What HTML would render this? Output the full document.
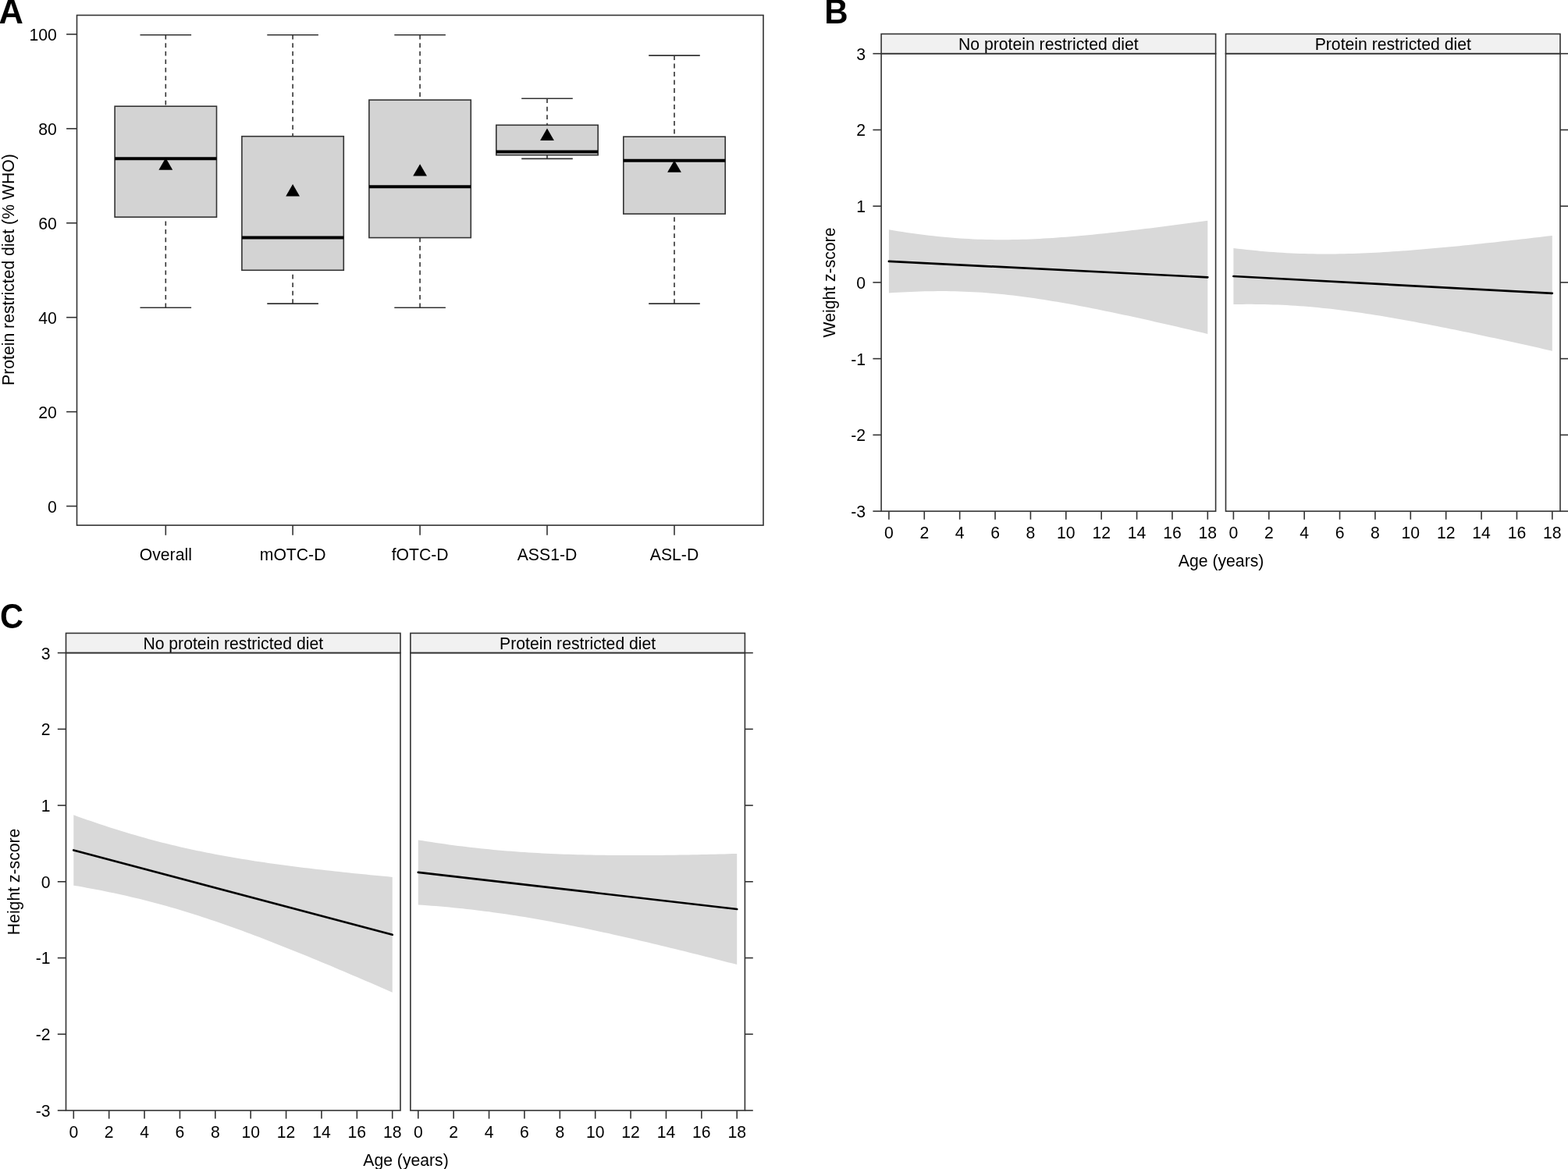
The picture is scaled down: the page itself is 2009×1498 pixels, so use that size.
<!DOCTYPE html>
<html><head><meta charset="utf-8"><title>Figure</title>
<style>
html,body{margin:0;padding:0;background:#fff;}
svg{display:block;}
text{font-family:"Liberation Sans", Arial, Helvetica, sans-serif;fill:#000;}
</style></head>
<body>
<svg width="2009" height="1498" viewBox="0 0 2009 1498">
<rect x="0" y="0" width="2009" height="1498" fill="#fff"/>
<rect x="98.5" y="19.5" width="879.5" height="653.6" fill="none" stroke="#333" stroke-width="1.6"/>
<line x1="85.1" y1="648.6" x2="98.5" y2="648.6" stroke="#333" stroke-width="1.6" />
<text transform="translate(72.9 656.6) scale(1.0 1.04)" text-anchor="end" font-size="21.2" font-weight="normal" >0</text>
<line x1="85.1" y1="527.66" x2="98.5" y2="527.66" stroke="#333" stroke-width="1.6" />
<text transform="translate(72.9 535.66) scale(1.0 1.04)" text-anchor="end" font-size="21.2" font-weight="normal" >20</text>
<line x1="85.1" y1="406.72" x2="98.5" y2="406.72" stroke="#333" stroke-width="1.6" />
<text transform="translate(72.9 414.72) scale(1.0 1.04)" text-anchor="end" font-size="21.2" font-weight="normal" >40</text>
<line x1="85.1" y1="285.78" x2="98.5" y2="285.78" stroke="#333" stroke-width="1.6" />
<text transform="translate(72.9 293.78) scale(1.0 1.04)" text-anchor="end" font-size="21.2" font-weight="normal" >60</text>
<line x1="85.1" y1="164.84" x2="98.5" y2="164.84" stroke="#333" stroke-width="1.6" />
<text transform="translate(72.9 172.84) scale(1.0 1.04)" text-anchor="end" font-size="21.2" font-weight="normal" >80</text>
<line x1="85.1" y1="43.9" x2="98.5" y2="43.9" stroke="#333" stroke-width="1.6" />
<text transform="translate(72.9 51.9) scale(1.0 1.04)" text-anchor="end" font-size="21.2" font-weight="normal" >100</text>
<line x1="212.3" y1="44.8" x2="212.3" y2="136.2" stroke="#333" stroke-width="1.6" stroke-dasharray="5.8 4.7"/>
<line x1="212.3" y1="394.3" x2="212.3" y2="278.2" stroke="#333" stroke-width="1.6" stroke-dasharray="5.8 4.7"/>
<line x1="179.5" y1="44.8" x2="245.1" y2="44.8" stroke="#333" stroke-width="1.6" />
<line x1="179.5" y1="394.3" x2="245.1" y2="394.3" stroke="#333" stroke-width="1.6" />
<rect x="147.1" y="136.2" width="130.4" height="142" fill="#d3d3d3" stroke="#333" stroke-width="1.6"/>
<line x1="147.1" y1="203.2" x2="277.5" y2="203.2" stroke="#000" stroke-width="4.0" />
<polygon points="212.3,202.3 221.2,217.7 203.4,217.7" fill="#000"/>
<line x1="212.3" y1="673.1" x2="212.3" y2="685.8" stroke="#333" stroke-width="1.6" />
<text transform="translate(212.3 718.2) scale(1.0 1.04)" text-anchor="middle" font-size="21.2" font-weight="normal" >Overall</text>
<line x1="375.1" y1="44.8" x2="375.1" y2="174.7" stroke="#333" stroke-width="1.6" stroke-dasharray="5.8 4.7"/>
<line x1="375.1" y1="389.1" x2="375.1" y2="346.3" stroke="#333" stroke-width="1.6" stroke-dasharray="5.8 4.7"/>
<line x1="342.3" y1="44.8" x2="407.9" y2="44.8" stroke="#333" stroke-width="1.6" />
<line x1="342.3" y1="389.1" x2="407.9" y2="389.1" stroke="#333" stroke-width="1.6" />
<rect x="309.9" y="174.7" width="130.4" height="171.6" fill="#d3d3d3" stroke="#333" stroke-width="1.6"/>
<line x1="309.9" y1="304.5" x2="440.3" y2="304.5" stroke="#000" stroke-width="4.0" />
<polygon points="375.1,236 384,251.4 366.2,251.4" fill="#000"/>
<line x1="375.1" y1="673.1" x2="375.1" y2="685.8" stroke="#333" stroke-width="1.6" />
<text transform="translate(375.1 718.2) scale(1.0 1.04)" text-anchor="middle" font-size="21.2" font-weight="normal" >mOTC-D</text>
<line x1="538.1" y1="44.8" x2="538.1" y2="128.1" stroke="#333" stroke-width="1.6" stroke-dasharray="5.8 4.7"/>
<line x1="538.1" y1="394.3" x2="538.1" y2="304.6" stroke="#333" stroke-width="1.6" stroke-dasharray="5.8 4.7"/>
<line x1="505.3" y1="44.8" x2="570.9" y2="44.8" stroke="#333" stroke-width="1.6" />
<line x1="505.3" y1="394.3" x2="570.9" y2="394.3" stroke="#333" stroke-width="1.6" />
<rect x="472.9" y="128.1" width="130.4" height="176.5" fill="#d3d3d3" stroke="#333" stroke-width="1.6"/>
<line x1="472.9" y1="239.2" x2="603.3" y2="239.2" stroke="#000" stroke-width="4.0" />
<polygon points="538.1,210.2 547,225.6 529.2,225.6" fill="#000"/>
<line x1="538.1" y1="673.1" x2="538.1" y2="685.8" stroke="#333" stroke-width="1.6" />
<text transform="translate(538.1 718.2) scale(1.0 1.04)" text-anchor="middle" font-size="21.2" font-weight="normal" >fOTC-D</text>
<line x1="701" y1="126.2" x2="701" y2="160.3" stroke="#333" stroke-width="1.6" stroke-dasharray="5.8 4.7"/>
<line x1="701" y1="203.4" x2="701" y2="198.7" stroke="#333" stroke-width="1.6" stroke-dasharray="5.8 4.7"/>
<line x1="668.2" y1="126.2" x2="733.8" y2="126.2" stroke="#333" stroke-width="1.6" />
<line x1="668.2" y1="203.4" x2="733.8" y2="203.4" stroke="#333" stroke-width="1.6" />
<rect x="635.8" y="160.3" width="130.4" height="38.4" fill="#d3d3d3" stroke="#333" stroke-width="1.6"/>
<line x1="635.8" y1="194.5" x2="766.2" y2="194.5" stroke="#000" stroke-width="4.0" />
<polygon points="701,164.5 709.9,179.9 692.1,179.9" fill="#000"/>
<line x1="701" y1="673.1" x2="701" y2="685.8" stroke="#333" stroke-width="1.6" />
<text transform="translate(701 718.2) scale(1.0 1.04)" text-anchor="middle" font-size="21.2" font-weight="normal" >ASS1-D</text>
<line x1="864" y1="71.1" x2="864" y2="175.2" stroke="#333" stroke-width="1.6" stroke-dasharray="5.8 4.7"/>
<line x1="864" y1="389.1" x2="864" y2="274.1" stroke="#333" stroke-width="1.6" stroke-dasharray="5.8 4.7"/>
<line x1="831.2" y1="71.1" x2="896.8" y2="71.1" stroke="#333" stroke-width="1.6" />
<line x1="831.2" y1="389.1" x2="896.8" y2="389.1" stroke="#333" stroke-width="1.6" />
<rect x="798.8" y="175.2" width="130.4" height="98.9" fill="#d3d3d3" stroke="#333" stroke-width="1.6"/>
<line x1="798.8" y1="205.7" x2="929.2" y2="205.7" stroke="#000" stroke-width="4.0" />
<polygon points="864,205.4 872.9,220.8 855.1,220.8" fill="#000"/>
<line x1="864" y1="673.1" x2="864" y2="685.8" stroke="#333" stroke-width="1.6" />
<text transform="translate(864 718.2) scale(1.0 1.04)" text-anchor="middle" font-size="21.2" font-weight="normal" >ASL-D</text>
<text transform="translate(17.9 345.6) rotate(-90) scale(1 1.04)" text-anchor="middle" font-size="21.2">Protein restricted diet (% WHO)</text>
<polygon fill="#d9d9d9" stroke="none" points="1138.9,294.35 1144.57,295.28 1150.25,296.18 1155.92,297.06 1161.59,297.91 1167.26,298.73 1172.94,299.52 1178.61,300.27 1184.28,300.99 1189.95,301.68 1195.62,302.33 1201.3,302.94 1206.97,303.51 1212.64,304.05 1218.32,304.54 1223.99,305 1229.66,305.41 1235.33,305.78 1241.01,306.11 1246.68,306.39 1252.35,306.63 1258.02,306.83 1263.7,306.99 1269.37,307.11 1275.04,307.18 1280.71,307.22 1286.39,307.22 1292.06,307.17 1297.73,307.09 1303.4,306.98 1309.08,306.82 1314.75,306.64 1320.42,306.42 1326.09,306.17 1331.77,305.89 1337.44,305.59 1343.11,305.25 1348.78,304.89 1354.46,304.5 1360.13,304.09 1365.8,303.66 1371.47,303.2 1377.14,302.73 1382.82,302.24 1388.49,301.72 1394.16,301.19 1399.84,300.65 1405.51,300.09 1411.18,299.51 1416.85,298.92 1422.53,298.31 1428.2,297.7 1433.87,297.07 1439.54,296.43 1445.22,295.78 1450.89,295.11 1456.56,294.44 1462.23,293.76 1467.91,293.07 1473.58,292.38 1479.25,291.67 1484.92,290.96 1490.6,290.24 1496.27,289.51 1501.94,288.77 1507.61,288.03 1513.29,287.29 1518.96,286.54 1524.63,285.78 1530.3,285.02 1535.98,284.25 1541.65,283.48 1547.32,282.7 1547.32,427.9 1541.65,426.56 1535.98,425.22 1530.3,423.88 1524.63,422.55 1518.96,421.23 1513.29,419.91 1507.61,418.6 1501.94,417.29 1496.27,415.99 1490.6,414.7 1484.92,413.41 1479.25,412.13 1473.58,410.86 1467.91,409.59 1462.23,408.34 1456.56,407.09 1450.89,405.85 1445.22,404.62 1439.54,403.41 1433.87,402.2 1428.2,401 1422.53,399.82 1416.85,398.65 1411.18,397.49 1405.51,396.35 1399.84,395.22 1394.16,394.11 1388.49,393.01 1382.82,391.93 1377.14,390.87 1371.47,389.83 1365.8,388.81 1360.13,387.81 1354.46,386.83 1348.78,385.88 1343.11,384.95 1337.44,384.05 1331.77,383.17 1326.09,382.33 1320.42,381.51 1314.75,380.73 1309.08,379.98 1303.4,379.26 1297.73,378.57 1292.06,377.93 1286.39,377.32 1280.71,376.75 1275.04,376.22 1269.37,375.72 1263.7,375.27 1258.02,374.87 1252.35,374.5 1246.68,374.18 1241.01,373.89 1235.33,373.65 1229.66,373.46 1223.99,373.3 1218.32,373.19 1212.64,373.12 1206.97,373.09 1201.3,373.09 1195.62,373.14 1189.95,373.22 1184.28,373.34 1178.61,373.5 1172.94,373.68 1167.26,373.91 1161.59,374.16 1155.92,374.44 1150.25,374.75 1144.57,375.09 1138.9,375.45"/>
<line x1="1138.9" y1="334.9" x2="1547.32" y2="355.3" stroke="#000" stroke-width="2.7" stroke-linecap="round"/>
<rect x="1129.1" y="43.5" width="428.5" height="25.2" fill="#f1f1f1" stroke="#333" stroke-width="1.6"/>
<text transform="translate(1343.35 63.9) scale(1.0 1.04)" text-anchor="middle" font-size="21.2" font-weight="normal" >No protein restricted diet</text>
<rect x="1129.1" y="68.7" width="428.5" height="586.4" fill="none" stroke="#333" stroke-width="1.6"/>
<line x1="1138.9" y1="655.1" x2="1138.9" y2="665.7" stroke="#333" stroke-width="1.6" />
<text transform="translate(1138.9 689.8) scale(1.0 1.04)" text-anchor="middle" font-size="21.2" font-weight="normal" >0</text>
<line x1="1184.28" y1="655.1" x2="1184.28" y2="665.7" stroke="#333" stroke-width="1.6" />
<text transform="translate(1184.28 689.8) scale(1.0 1.04)" text-anchor="middle" font-size="21.2" font-weight="normal" >2</text>
<line x1="1229.66" y1="655.1" x2="1229.66" y2="665.7" stroke="#333" stroke-width="1.6" />
<text transform="translate(1229.66 689.8) scale(1.0 1.04)" text-anchor="middle" font-size="21.2" font-weight="normal" >4</text>
<line x1="1275.04" y1="655.1" x2="1275.04" y2="665.7" stroke="#333" stroke-width="1.6" />
<text transform="translate(1275.04 689.8) scale(1.0 1.04)" text-anchor="middle" font-size="21.2" font-weight="normal" >6</text>
<line x1="1320.42" y1="655.1" x2="1320.42" y2="665.7" stroke="#333" stroke-width="1.6" />
<text transform="translate(1320.42 689.8) scale(1.0 1.04)" text-anchor="middle" font-size="21.2" font-weight="normal" >8</text>
<line x1="1365.8" y1="655.1" x2="1365.8" y2="665.7" stroke="#333" stroke-width="1.6" />
<text transform="translate(1365.8 689.8) scale(1.0 1.04)" text-anchor="middle" font-size="21.2" font-weight="normal" >10</text>
<line x1="1411.18" y1="655.1" x2="1411.18" y2="665.7" stroke="#333" stroke-width="1.6" />
<text transform="translate(1411.18 689.8) scale(1.0 1.04)" text-anchor="middle" font-size="21.2" font-weight="normal" >12</text>
<line x1="1456.56" y1="655.1" x2="1456.56" y2="665.7" stroke="#333" stroke-width="1.6" />
<text transform="translate(1456.56 689.8) scale(1.0 1.04)" text-anchor="middle" font-size="21.2" font-weight="normal" >14</text>
<line x1="1501.94" y1="655.1" x2="1501.94" y2="665.7" stroke="#333" stroke-width="1.6" />
<text transform="translate(1501.94 689.8) scale(1.0 1.04)" text-anchor="middle" font-size="21.2" font-weight="normal" >16</text>
<line x1="1547.32" y1="655.1" x2="1547.32" y2="665.7" stroke="#333" stroke-width="1.6" />
<text transform="translate(1547.32 689.8) scale(1.0 1.04)" text-anchor="middle" font-size="21.2" font-weight="normal" >18</text>
<polygon fill="#d9d9d9" stroke="none" points="1580.4,317.95 1586.07,318.65 1591.75,319.31 1597.42,319.95 1603.09,320.55 1608.76,321.12 1614.44,321.66 1620.11,322.16 1625.78,322.63 1631.45,323.07 1637.12,323.46 1642.8,323.83 1648.47,324.15 1654.14,324.44 1659.82,324.7 1665.49,324.91 1671.16,325.09 1676.83,325.24 1682.51,325.35 1688.18,325.43 1693.85,325.48 1699.52,325.49 1705.2,325.47 1710.87,325.41 1716.54,325.33 1722.21,325.22 1727.89,325.08 1733.56,324.91 1739.23,324.72 1744.9,324.5 1750.58,324.26 1756.25,323.99 1761.92,323.71 1767.59,323.4 1773.27,323.07 1778.94,322.72 1784.61,322.35 1790.28,321.96 1795.96,321.56 1801.63,321.15 1807.3,320.71 1812.97,320.26 1818.64,319.8 1824.32,319.33 1829.99,318.84 1835.66,318.34 1841.34,317.83 1847.01,317.31 1852.68,316.78 1858.35,316.24 1864.03,315.69 1869.7,315.13 1875.37,314.56 1881.04,313.98 1886.72,313.4 1892.39,312.81 1898.06,312.21 1903.73,311.61 1909.41,310.99 1915.08,310.38 1920.75,309.75 1926.42,309.12 1932.1,308.49 1937.77,307.85 1943.44,307.21 1949.11,306.56 1954.79,305.9 1960.46,305.25 1966.13,304.59 1971.8,303.92 1977.48,303.25 1983.15,302.58 1988.82,301.9 1988.82,449.7 1983.15,448.42 1977.48,447.14 1971.8,445.86 1966.13,444.59 1960.46,443.33 1954.79,442.06 1949.11,440.8 1943.44,439.55 1937.77,438.3 1932.1,437.05 1926.42,435.81 1920.75,434.58 1915.08,433.35 1909.41,432.13 1903.73,430.91 1898.06,429.7 1892.39,428.5 1886.72,427.3 1881.04,426.11 1875.37,424.93 1869.7,423.76 1864.03,422.59 1858.35,421.43 1852.68,420.29 1847.01,419.15 1841.34,418.02 1835.66,416.91 1829.99,415.8 1824.32,414.71 1818.64,413.63 1812.97,412.56 1807.3,411.51 1801.63,410.47 1795.96,409.45 1790.28,408.44 1784.61,407.45 1778.94,406.48 1773.27,405.52 1767.59,404.59 1761.92,403.67 1756.25,402.78 1750.58,401.91 1744.9,401.06 1739.23,400.24 1733.56,399.44 1727.89,398.66 1722.21,397.92 1716.54,397.2 1710.87,396.51 1705.2,395.86 1699.52,395.23 1693.85,394.64 1688.18,394.07 1682.51,393.55 1676.83,393.05 1671.16,392.59 1665.49,392.17 1659.82,391.78 1654.14,391.43 1648.47,391.12 1642.8,390.84 1637.12,390.59 1631.45,390.38 1625.78,390.21 1620.11,390.08 1614.44,389.97 1608.76,389.91 1603.09,389.87 1597.42,389.87 1591.75,389.9 1586.07,389.96 1580.4,390.05"/>
<line x1="1580.4" y1="354" x2="1988.82" y2="375.8" stroke="#000" stroke-width="2.7" stroke-linecap="round"/>
<rect x="1570.5" y="43.5" width="428.5" height="25.2" fill="#f1f1f1" stroke="#333" stroke-width="1.6"/>
<text transform="translate(1784.75 63.9) scale(1.0 1.04)" text-anchor="middle" font-size="21.2" font-weight="normal" >Protein restricted diet</text>
<rect x="1570.5" y="68.7" width="428.5" height="586.4" fill="none" stroke="#333" stroke-width="1.6"/>
<line x1="1580.4" y1="655.1" x2="1580.4" y2="665.7" stroke="#333" stroke-width="1.6" />
<text transform="translate(1580.4 689.8) scale(1.0 1.04)" text-anchor="middle" font-size="21.2" font-weight="normal" >0</text>
<line x1="1625.78" y1="655.1" x2="1625.78" y2="665.7" stroke="#333" stroke-width="1.6" />
<text transform="translate(1625.78 689.8) scale(1.0 1.04)" text-anchor="middle" font-size="21.2" font-weight="normal" >2</text>
<line x1="1671.16" y1="655.1" x2="1671.16" y2="665.7" stroke="#333" stroke-width="1.6" />
<text transform="translate(1671.16 689.8) scale(1.0 1.04)" text-anchor="middle" font-size="21.2" font-weight="normal" >4</text>
<line x1="1716.54" y1="655.1" x2="1716.54" y2="665.7" stroke="#333" stroke-width="1.6" />
<text transform="translate(1716.54 689.8) scale(1.0 1.04)" text-anchor="middle" font-size="21.2" font-weight="normal" >6</text>
<line x1="1761.92" y1="655.1" x2="1761.92" y2="665.7" stroke="#333" stroke-width="1.6" />
<text transform="translate(1761.92 689.8) scale(1.0 1.04)" text-anchor="middle" font-size="21.2" font-weight="normal" >8</text>
<line x1="1807.3" y1="655.1" x2="1807.3" y2="665.7" stroke="#333" stroke-width="1.6" />
<text transform="translate(1807.3 689.8) scale(1.0 1.04)" text-anchor="middle" font-size="21.2" font-weight="normal" >10</text>
<line x1="1852.68" y1="655.1" x2="1852.68" y2="665.7" stroke="#333" stroke-width="1.6" />
<text transform="translate(1852.68 689.8) scale(1.0 1.04)" text-anchor="middle" font-size="21.2" font-weight="normal" >12</text>
<line x1="1898.06" y1="655.1" x2="1898.06" y2="665.7" stroke="#333" stroke-width="1.6" />
<text transform="translate(1898.06 689.8) scale(1.0 1.04)" text-anchor="middle" font-size="21.2" font-weight="normal" >14</text>
<line x1="1943.44" y1="655.1" x2="1943.44" y2="665.7" stroke="#333" stroke-width="1.6" />
<text transform="translate(1943.44 689.8) scale(1.0 1.04)" text-anchor="middle" font-size="21.2" font-weight="normal" >16</text>
<line x1="1988.82" y1="655.1" x2="1988.82" y2="665.7" stroke="#333" stroke-width="1.6" />
<text transform="translate(1988.82 689.8) scale(1.0 1.04)" text-anchor="middle" font-size="21.2" font-weight="normal" >18</text>
<line x1="1118.4" y1="655.09" x2="1129.1" y2="655.09" stroke="#333" stroke-width="1.6" />
<line x1="1999" y1="655.09" x2="2009.4" y2="655.09" stroke="#333" stroke-width="1.6" />
<text transform="translate(1109.1 662.99) scale(1.0 1.04)" text-anchor="end" font-size="21.2" font-weight="normal" >-3</text>
<line x1="1118.4" y1="557.36" x2="1129.1" y2="557.36" stroke="#333" stroke-width="1.6" />
<line x1="1999" y1="557.36" x2="2009.4" y2="557.36" stroke="#333" stroke-width="1.6" />
<text transform="translate(1109.1 565.26) scale(1.0 1.04)" text-anchor="end" font-size="21.2" font-weight="normal" >-2</text>
<line x1="1118.4" y1="459.63" x2="1129.1" y2="459.63" stroke="#333" stroke-width="1.6" />
<line x1="1999" y1="459.63" x2="2009.4" y2="459.63" stroke="#333" stroke-width="1.6" />
<text transform="translate(1109.1 467.53) scale(1.0 1.04)" text-anchor="end" font-size="21.2" font-weight="normal" >-1</text>
<line x1="1118.4" y1="361.9" x2="1129.1" y2="361.9" stroke="#333" stroke-width="1.6" />
<line x1="1999" y1="361.9" x2="2009.4" y2="361.9" stroke="#333" stroke-width="1.6" />
<text transform="translate(1109.1 369.8) scale(1.0 1.04)" text-anchor="end" font-size="21.2" font-weight="normal" >0</text>
<line x1="1118.4" y1="264.17" x2="1129.1" y2="264.17" stroke="#333" stroke-width="1.6" />
<line x1="1999" y1="264.17" x2="2009.4" y2="264.17" stroke="#333" stroke-width="1.6" />
<text transform="translate(1109.1 272.07) scale(1.0 1.04)" text-anchor="end" font-size="21.2" font-weight="normal" >1</text>
<line x1="1118.4" y1="166.44" x2="1129.1" y2="166.44" stroke="#333" stroke-width="1.6" />
<line x1="1999" y1="166.44" x2="2009.4" y2="166.44" stroke="#333" stroke-width="1.6" />
<text transform="translate(1109.1 174.34) scale(1.0 1.04)" text-anchor="end" font-size="21.2" font-weight="normal" >2</text>
<line x1="1118.4" y1="68.71" x2="1129.1" y2="68.71" stroke="#333" stroke-width="1.6" />
<line x1="1999" y1="68.71" x2="2009.4" y2="68.71" stroke="#333" stroke-width="1.6" />
<text transform="translate(1109.1 76.61) scale(1.0 1.04)" text-anchor="end" font-size="21.2" font-weight="normal" >3</text>
<text transform="translate(1564.6 725.6) scale(1.0 1.04)" text-anchor="middle" font-size="21.2" font-weight="normal" >Age (years)</text>
<text transform="translate(1069.9 362) rotate(-90) scale(1 1.04)" text-anchor="middle" font-size="21.2">Weight z-score</text>
<polygon fill="#d9d9d9" stroke="none" points="94.3,1044.35 99.97,1046.39 105.65,1048.4 111.32,1050.38 116.99,1052.34 122.66,1054.28 128.34,1056.19 134.01,1058.07 139.68,1059.92 145.35,1061.74 151.03,1063.53 156.7,1065.29 162.37,1067.01 168.04,1068.71 173.72,1070.37 179.39,1072 185.06,1073.6 190.73,1075.16 196.41,1076.69 202.08,1078.19 207.75,1079.65 213.42,1081.08 219.1,1082.48 224.77,1083.84 230.44,1085.17 236.11,1086.47 241.79,1087.74 247.46,1088.97 253.13,1090.18 258.8,1091.35 264.48,1092.5 270.15,1093.62 275.82,1094.71 281.49,1095.77 287.17,1096.8 292.84,1097.81 298.51,1098.8 304.18,1099.76 309.86,1100.7 315.53,1101.62 321.2,1102.52 326.87,1103.39 332.55,1104.25 338.22,1105.09 343.89,1105.91 349.56,1106.71 355.24,1107.5 360.91,1108.27 366.58,1109.02 372.25,1109.76 377.93,1110.49 383.6,1111.2 389.27,1111.9 394.94,1112.59 400.62,1113.26 406.29,1113.93 411.96,1114.58 417.63,1115.23 423.31,1115.86 428.98,1116.48 434.65,1117.1 440.32,1117.71 446,1118.31 451.67,1118.9 457.34,1119.48 463.01,1120.05 468.69,1120.62 474.36,1121.18 480.03,1121.74 485.7,1122.29 491.38,1122.83 497.05,1123.37 502.72,1123.9 502.72,1271.7 497.05,1269.22 491.38,1266.75 485.7,1264.29 480.03,1261.83 474.36,1259.37 468.69,1256.93 463.01,1254.49 457.34,1252.06 451.67,1249.63 446,1247.21 440.32,1244.8 434.65,1242.4 428.98,1240.01 423.31,1237.62 417.63,1235.25 411.96,1232.88 406.29,1230.53 400.62,1228.19 394.94,1225.85 389.27,1223.53 383.6,1221.23 377.93,1218.93 372.25,1216.65 366.58,1214.38 360.91,1212.13 355.24,1209.89 349.56,1207.67 343.89,1205.46 338.22,1203.27 332.55,1201.1 326.87,1198.95 321.2,1196.82 315.53,1194.71 309.86,1192.61 304.18,1190.55 298.51,1188.5 292.84,1186.48 287.17,1184.48 281.49,1182.51 275.82,1180.56 270.15,1178.64 264.48,1176.75 258.8,1174.89 253.13,1173.05 247.46,1171.25 241.79,1169.48 236.11,1167.74 230.44,1166.03 224.77,1164.35 219.1,1162.7 213.42,1161.09 207.75,1159.51 202.08,1157.97 196.41,1156.46 190.73,1154.98 185.06,1153.53 179.39,1152.12 173.72,1150.74 168.04,1149.4 162.37,1148.09 156.7,1146.81 151.03,1145.56 145.35,1144.34 139.68,1143.15 134.01,1141.99 128.34,1140.86 122.66,1139.76 116.99,1138.69 111.32,1137.64 105.65,1136.62 99.97,1135.62 94.3,1134.65"/>
<line x1="94.3" y1="1089.5" x2="502.72" y2="1197.8" stroke="#000" stroke-width="2.7" stroke-linecap="round"/>
<rect x="84.5" y="811.4" width="428.5" height="25.2" fill="#f1f1f1" stroke="#333" stroke-width="1.6"/>
<text transform="translate(298.75 831.8) scale(1.0 1.04)" text-anchor="middle" font-size="21.2" font-weight="normal" >No protein restricted diet</text>
<rect x="84.5" y="836.6" width="428.5" height="586.4" fill="none" stroke="#333" stroke-width="1.6"/>
<line x1="94.3" y1="1423" x2="94.3" y2="1433.6" stroke="#333" stroke-width="1.6" />
<text transform="translate(94.3 1457.7) scale(1.0 1.04)" text-anchor="middle" font-size="21.2" font-weight="normal" >0</text>
<line x1="139.68" y1="1423" x2="139.68" y2="1433.6" stroke="#333" stroke-width="1.6" />
<text transform="translate(139.68 1457.7) scale(1.0 1.04)" text-anchor="middle" font-size="21.2" font-weight="normal" >2</text>
<line x1="185.06" y1="1423" x2="185.06" y2="1433.6" stroke="#333" stroke-width="1.6" />
<text transform="translate(185.06 1457.7) scale(1.0 1.04)" text-anchor="middle" font-size="21.2" font-weight="normal" >4</text>
<line x1="230.44" y1="1423" x2="230.44" y2="1433.6" stroke="#333" stroke-width="1.6" />
<text transform="translate(230.44 1457.7) scale(1.0 1.04)" text-anchor="middle" font-size="21.2" font-weight="normal" >6</text>
<line x1="275.82" y1="1423" x2="275.82" y2="1433.6" stroke="#333" stroke-width="1.6" />
<text transform="translate(275.82 1457.7) scale(1.0 1.04)" text-anchor="middle" font-size="21.2" font-weight="normal" >8</text>
<line x1="321.2" y1="1423" x2="321.2" y2="1433.6" stroke="#333" stroke-width="1.6" />
<text transform="translate(321.2 1457.7) scale(1.0 1.04)" text-anchor="middle" font-size="21.2" font-weight="normal" >10</text>
<line x1="366.58" y1="1423" x2="366.58" y2="1433.6" stroke="#333" stroke-width="1.6" />
<text transform="translate(366.58 1457.7) scale(1.0 1.04)" text-anchor="middle" font-size="21.2" font-weight="normal" >12</text>
<line x1="411.96" y1="1423" x2="411.96" y2="1433.6" stroke="#333" stroke-width="1.6" />
<text transform="translate(411.96 1457.7) scale(1.0 1.04)" text-anchor="middle" font-size="21.2" font-weight="normal" >14</text>
<line x1="457.34" y1="1423" x2="457.34" y2="1433.6" stroke="#333" stroke-width="1.6" />
<text transform="translate(457.34 1457.7) scale(1.0 1.04)" text-anchor="middle" font-size="21.2" font-weight="normal" >16</text>
<line x1="502.72" y1="1423" x2="502.72" y2="1433.6" stroke="#333" stroke-width="1.6" />
<text transform="translate(502.72 1457.7) scale(1.0 1.04)" text-anchor="middle" font-size="21.2" font-weight="normal" >18</text>
<polygon fill="#d9d9d9" stroke="none" points="535.8,1076.4 541.47,1077.32 547.15,1078.22 552.82,1079.1 558.49,1079.95 564.16,1080.78 569.84,1081.59 575.51,1082.38 581.18,1083.14 586.85,1083.88 592.53,1084.59 598.2,1085.28 603.87,1085.95 609.54,1086.59 615.22,1087.21 620.89,1087.8 626.56,1088.37 632.23,1088.91 637.91,1089.44 643.58,1089.94 649.25,1090.41 654.92,1090.86 660.6,1091.29 666.27,1091.7 671.94,1092.09 677.61,1092.45 683.29,1092.8 688.96,1093.12 694.63,1093.43 700.3,1093.71 705.98,1093.98 711.65,1094.22 717.32,1094.45 722.99,1094.66 728.67,1094.86 734.34,1095.04 740.01,1095.2 745.68,1095.35 751.36,1095.48 757.03,1095.6 762.7,1095.7 768.37,1095.79 774.05,1095.87 779.72,1095.93 785.39,1095.99 791.06,1096.03 796.74,1096.06 802.41,1096.08 808.08,1096.09 813.75,1096.08 819.43,1096.07 825.1,1096.05 830.77,1096.02 836.44,1095.98 842.12,1095.94 847.79,1095.88 853.46,1095.82 859.13,1095.75 864.81,1095.67 870.48,1095.59 876.15,1095.49 881.82,1095.4 887.5,1095.29 893.17,1095.18 898.84,1095.07 904.51,1094.94 910.19,1094.82 915.86,1094.68 921.53,1094.55 927.2,1094.4 932.88,1094.26 938.55,1094.11 944.22,1093.95 944.22,1236.05 938.55,1234.59 932.88,1233.13 927.2,1231.67 921.53,1230.22 915.86,1228.77 910.19,1227.33 904.51,1225.9 898.84,1224.47 893.17,1223.04 887.5,1221.63 881.82,1220.21 876.15,1218.81 870.48,1217.41 864.81,1216.01 859.13,1214.63 853.46,1213.25 847.79,1211.88 842.12,1210.51 836.44,1209.16 830.77,1207.81 825.1,1206.47 819.43,1205.14 813.75,1203.82 808.08,1202.51 802.41,1201.22 796.74,1199.93 791.06,1198.65 785.39,1197.38 779.72,1196.12 774.05,1194.88 768.37,1193.65 762.7,1192.43 757.03,1191.23 751.36,1190.04 745.68,1188.86 740.01,1187.7 734.34,1186.55 728.67,1185.42 722.99,1184.31 717.32,1183.21 711.65,1182.14 705.98,1181.07 700.3,1180.03 694.63,1179.01 688.96,1178 683.29,1177.02 677.61,1176.05 671.94,1175.11 666.27,1174.19 660.6,1173.29 654.92,1172.41 649.25,1171.56 643.58,1170.72 637.91,1169.91 632.23,1169.13 626.56,1168.36 620.89,1167.63 615.22,1166.91 609.54,1166.22 603.87,1165.55 598.2,1164.91 592.53,1164.29 586.85,1163.7 581.18,1163.13 575.51,1162.58 569.84,1162.06 564.16,1161.56 558.49,1161.08 552.82,1160.63 547.15,1160.2 541.47,1159.79 535.8,1159.4"/>
<line x1="535.8" y1="1117.9" x2="944.22" y2="1165" stroke="#000" stroke-width="2.7" stroke-linecap="round"/>
<rect x="525.9" y="811.4" width="428.5" height="25.2" fill="#f1f1f1" stroke="#333" stroke-width="1.6"/>
<text transform="translate(740.15 831.8) scale(1.0 1.04)" text-anchor="middle" font-size="21.2" font-weight="normal" >Protein restricted diet</text>
<rect x="525.9" y="836.6" width="428.5" height="586.4" fill="none" stroke="#333" stroke-width="1.6"/>
<line x1="535.8" y1="1423" x2="535.8" y2="1433.6" stroke="#333" stroke-width="1.6" />
<text transform="translate(535.8 1457.7) scale(1.0 1.04)" text-anchor="middle" font-size="21.2" font-weight="normal" >0</text>
<line x1="581.18" y1="1423" x2="581.18" y2="1433.6" stroke="#333" stroke-width="1.6" />
<text transform="translate(581.18 1457.7) scale(1.0 1.04)" text-anchor="middle" font-size="21.2" font-weight="normal" >2</text>
<line x1="626.56" y1="1423" x2="626.56" y2="1433.6" stroke="#333" stroke-width="1.6" />
<text transform="translate(626.56 1457.7) scale(1.0 1.04)" text-anchor="middle" font-size="21.2" font-weight="normal" >4</text>
<line x1="671.94" y1="1423" x2="671.94" y2="1433.6" stroke="#333" stroke-width="1.6" />
<text transform="translate(671.94 1457.7) scale(1.0 1.04)" text-anchor="middle" font-size="21.2" font-weight="normal" >6</text>
<line x1="717.32" y1="1423" x2="717.32" y2="1433.6" stroke="#333" stroke-width="1.6" />
<text transform="translate(717.32 1457.7) scale(1.0 1.04)" text-anchor="middle" font-size="21.2" font-weight="normal" >8</text>
<line x1="762.7" y1="1423" x2="762.7" y2="1433.6" stroke="#333" stroke-width="1.6" />
<text transform="translate(762.7 1457.7) scale(1.0 1.04)" text-anchor="middle" font-size="21.2" font-weight="normal" >10</text>
<line x1="808.08" y1="1423" x2="808.08" y2="1433.6" stroke="#333" stroke-width="1.6" />
<text transform="translate(808.08 1457.7) scale(1.0 1.04)" text-anchor="middle" font-size="21.2" font-weight="normal" >12</text>
<line x1="853.46" y1="1423" x2="853.46" y2="1433.6" stroke="#333" stroke-width="1.6" />
<text transform="translate(853.46 1457.7) scale(1.0 1.04)" text-anchor="middle" font-size="21.2" font-weight="normal" >14</text>
<line x1="898.84" y1="1423" x2="898.84" y2="1433.6" stroke="#333" stroke-width="1.6" />
<text transform="translate(898.84 1457.7) scale(1.0 1.04)" text-anchor="middle" font-size="21.2" font-weight="normal" >16</text>
<line x1="944.22" y1="1423" x2="944.22" y2="1433.6" stroke="#333" stroke-width="1.6" />
<text transform="translate(944.22 1457.7) scale(1.0 1.04)" text-anchor="middle" font-size="21.2" font-weight="normal" >18</text>
<line x1="73.8" y1="1422.99" x2="84.5" y2="1422.99" stroke="#333" stroke-width="1.6" />
<line x1="954.4" y1="1422.99" x2="964.8" y2="1422.99" stroke="#333" stroke-width="1.6" />
<text transform="translate(64.5 1430.89) scale(1.0 1.04)" text-anchor="end" font-size="21.2" font-weight="normal" >-3</text>
<line x1="73.8" y1="1325.26" x2="84.5" y2="1325.26" stroke="#333" stroke-width="1.6" />
<line x1="954.4" y1="1325.26" x2="964.8" y2="1325.26" stroke="#333" stroke-width="1.6" />
<text transform="translate(64.5 1333.16) scale(1.0 1.04)" text-anchor="end" font-size="21.2" font-weight="normal" >-2</text>
<line x1="73.8" y1="1227.53" x2="84.5" y2="1227.53" stroke="#333" stroke-width="1.6" />
<line x1="954.4" y1="1227.53" x2="964.8" y2="1227.53" stroke="#333" stroke-width="1.6" />
<text transform="translate(64.5 1235.43) scale(1.0 1.04)" text-anchor="end" font-size="21.2" font-weight="normal" >-1</text>
<line x1="73.8" y1="1129.8" x2="84.5" y2="1129.8" stroke="#333" stroke-width="1.6" />
<line x1="954.4" y1="1129.8" x2="964.8" y2="1129.8" stroke="#333" stroke-width="1.6" />
<text transform="translate(64.5 1137.7) scale(1.0 1.04)" text-anchor="end" font-size="21.2" font-weight="normal" >0</text>
<line x1="73.8" y1="1032.07" x2="84.5" y2="1032.07" stroke="#333" stroke-width="1.6" />
<line x1="954.4" y1="1032.07" x2="964.8" y2="1032.07" stroke="#333" stroke-width="1.6" />
<text transform="translate(64.5 1039.97) scale(1.0 1.04)" text-anchor="end" font-size="21.2" font-weight="normal" >1</text>
<line x1="73.8" y1="934.34" x2="84.5" y2="934.34" stroke="#333" stroke-width="1.6" />
<line x1="954.4" y1="934.34" x2="964.8" y2="934.34" stroke="#333" stroke-width="1.6" />
<text transform="translate(64.5 942.24) scale(1.0 1.04)" text-anchor="end" font-size="21.2" font-weight="normal" >2</text>
<line x1="73.8" y1="836.61" x2="84.5" y2="836.61" stroke="#333" stroke-width="1.6" />
<line x1="954.4" y1="836.61" x2="964.8" y2="836.61" stroke="#333" stroke-width="1.6" />
<text transform="translate(64.5 844.51) scale(1.0 1.04)" text-anchor="end" font-size="21.2" font-weight="normal" >3</text>
<text transform="translate(520 1493.5) scale(1.0 1.04)" text-anchor="middle" font-size="21.2" font-weight="normal" >Age (years)</text>
<text transform="translate(25.3 1129.9) rotate(-90) scale(1 1.04)" text-anchor="middle" font-size="21.2">Height z-score</text>
<text transform="translate(-1.5 29.6) scale(1.035 1.065)" text-anchor="start" font-size="42" font-weight="bold" >A</text>
<text transform="translate(1056.3 29.7) scale(1.0 1.065)" text-anchor="start" font-size="42" font-weight="bold" >B</text>
<text transform="translate(-0.1 805.3) scale(0.99 1.06)" text-anchor="start" font-size="42" font-weight="bold" >C</text>
</svg>
</body></html>
